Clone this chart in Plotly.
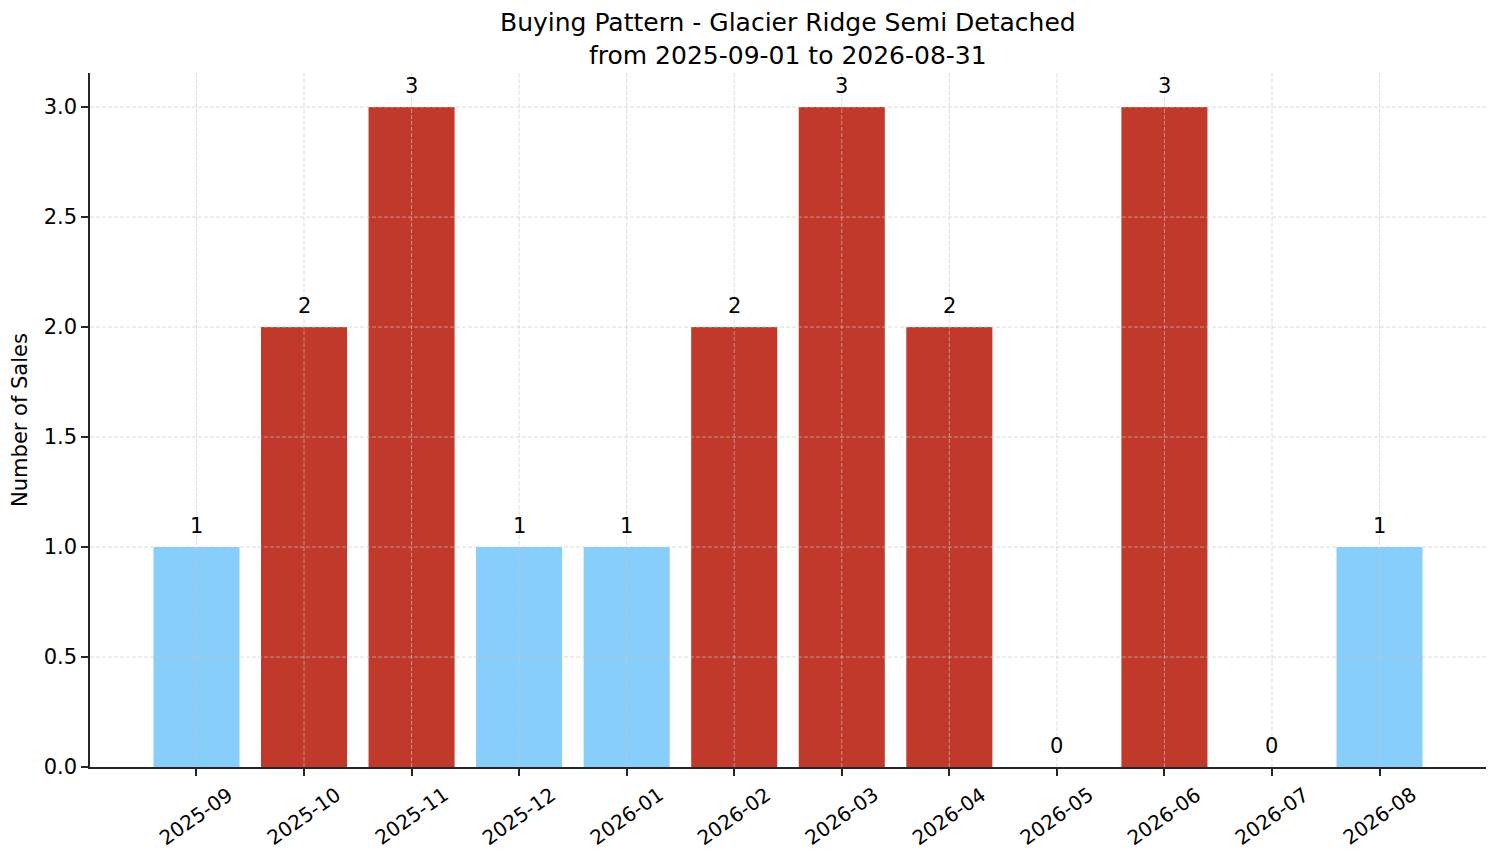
import plotly.graph_objects as go

# monthly sales counts
months = ['2025-09', '2025-10', '2025-11', '2025-12', '2026-01', '2026-02',
          '2026-03', '2026-04', '2026-05', '2026-06', '2026-07', '2026-08']
sales = [1, 2, 3, 1, 1, 2, 3, 2, 0, 3, 0, 1]
y_ticks = [0.0, 0.5, 1.0, 1.5, 2.0, 2.5, 3.0]

title_text = 'Buying Pattern - Glacier Ridge Semi Detached<br>from 2025-09-01 to 2026-08-31'

RED = '#c0392b'
BLUE = '#87cefa'
GRID = 'rgba(200,200,200,0.8)'
AXIS = '#262626'
FONT = 'DejaVu Sans'

mean_sales = sum(sales) / len(sales)
bar_colors = [RED if v > mean_sales else BLUE for v in sales]

fig = go.Figure()
fig.add_trace(go.Bar(x=list(range(len(months))), y=sales,
                     marker=dict(color=bar_colors, line=dict(width=0)),
                     width=0.8, hoverinfo='skip'))

# gridlines drawn over the bars, like the original
shapes = []
for i in range(len(months)):
    shapes.append(dict(type='line', xref='x', yref='paper', x0=i, x1=i, y0=0, y1=1,
                       line=dict(color=GRID, width=0.8, dash='4px,2px'), layer='above'))
for t in y_ticks[1:]:
    shapes.append(dict(type='line', xref='paper', yref='y', x0=0, x1=1, y0=t, y1=t,
                       line=dict(color=GRID, width=0.8, dash='4px,2px'), layer='above'))

annotations = []
# title as an annotation so both lines sit just above the plot
annotations.append(dict(x=0.5, y=1, xref='paper', yref='paper', text=title_text,
                        showarrow=False, xanchor='center', yanchor='bottom', yshift=1,
                        font=dict(family=FONT, size=25, color='black')))
# value labels on top of bars
for i, v in enumerate(sales):
    annotations.append(dict(x=i, y=v, xref='x', yref='y', text=str(v),
                            showarrow=False, yanchor='bottom', yshift=7,
                            font=dict(family=FONT, size=21, color='black')))
# rotated month labels, centred under each tick
for i, m in enumerate(months):
    annotations.append(dict(x=i, y=0, xref='x', yref='y', text=m, showarrow=False,
                            textangle=-35, yshift=-49,
                            font=dict(family=FONT, size=20, color='black')))

fig.update_layout(
    width=1501, height=863,
    margin=dict(l=82, r=23, t=65, b=104),
    plot_bgcolor='white', paper_bgcolor='white',
    font=dict(family=FONT, size=20, color='black'),
    showlegend=False,
    shapes=shapes,
    annotations=annotations,
)
fig.update_xaxes(range=[-0.99, 11.99], tickvals=list(range(len(months))),
                 showticklabels=False, ticks='outside', ticklen=7, tickwidth=1.5,
                 tickcolor=AXIS, showline=True, linecolor=AXIS, linewidth=1.5,
                 showgrid=False, zeroline=False, automargin=False)
fig.update_yaxes(range=[0, 3.155], tickvals=y_ticks, tickformat='.1f',
                 ticks='outside', ticklen=7, tickwidth=1.5, tickcolor=AXIS,
                 showline=True, linecolor=AXIS, linewidth=1.5,
                 showgrid=False, zeroline=False, automargin=False,
                 title=dict(text='Number of Sales', standoff=12,
                            font=dict(family=FONT, size=21)),
                 tickfont=dict(family=FONT, size=21))

fig.write_html('out.html')
